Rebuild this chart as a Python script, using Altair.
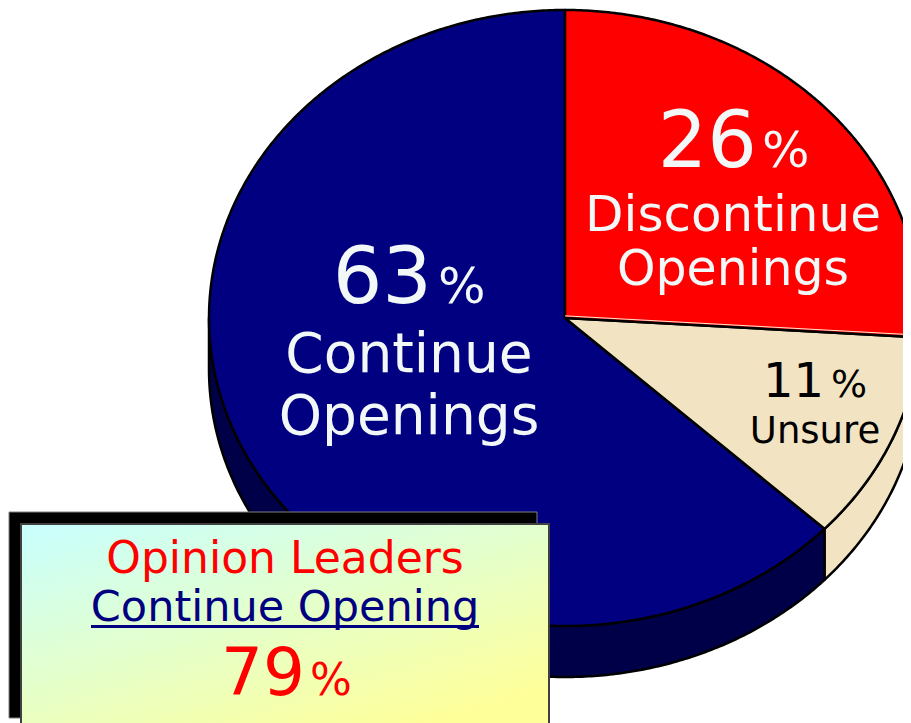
import math
import altair as alt
import pandas as pd

# Shares
SLICES = ["Discontinue Openings", "Unsure", "Continue Openings"]
SHARES = [26, 11, 63]
TOP_FILL = ["#ff0000", "#f2e4c2", "#000080"]
SIDE_FILL = ["#ff0000", "#f2e4c2", "#000048"]

W, H = 895, 715
CX, CY, RX, RY = 557, 310, 356, 308   # pie centre and radii inside the plot
DEPTH = 51 / RY

x_scale = alt.Scale(domain=[-CX / RX, (W - CX) / RX], nice=False, zero=False)
y_scale = alt.Scale(domain=[-(H - CY) / RY, CY / RY], nice=False, zero=False)


def rim(a0, a1, drop=0.0):
    n = max(2, int(abs(a1 - a0) * 2))
    return [
        (math.sin(math.radians(a0 + (a1 - a0) * i / n)),
         math.cos(math.radians(a0 + (a1 - a0) * i / n)) - drop)
        for i in range(n + 1)
    ]


def poly(points, fill, stroke="black", sw=2.5):
    df = pd.DataFrame(points, columns=["x", "y"])
    df["i"] = range(len(df))
    return alt.Chart(df).mark_line(
        fill=fill, stroke=stroke, strokeWidth=sw, clip=True, strokeJoin="round"
    ).encode(
        x=alt.X("x:Q", scale=x_scale, axis=None),
        y=alt.Y("y:Q", scale=y_scale, axis=None),
        order="i:Q",
    )


# slice angle ranges from the shares
angles = []
start = 0.0
for s in SHARES:
    angles.append((start, start + s * 3.6))
    start += s * 3.6

layers = []
# extruded walls (only the front-facing part of the rim)
for idx, (a0, a1) in [(1, (angles[1][0], angles[1][1])), (2, (angles[2][0], 270.0))]:
    top = rim(a0, a1)
    bottom = rim(a1, a0, DEPTH)
    pts = top + bottom + [top[0]]
    layers.append(poly(pts, SIDE_FILL[idx]))

# top faces
for idx in [2, 1, 0]:
    a0, a1 = angles[idx]
    pts = [(0.0, 0.0)] + rim(a0, a1) + [(0.0, 0.0)]
    layers.append(poly(pts, TOP_FILL[idx]))

# pale highlight along the red slice's lower edge
a = math.radians(angles[0][1])
edge = pd.DataFrame({"x": [0.0, math.sin(a)], "y": [0.007, math.cos(a) + 0.007], "i": [0, 1]})
layers.append(
    alt.Chart(edge).mark_line(stroke="#ffe9d0", strokeWidth=1, clip=True).encode(
        x=alt.X("x:Q", scale=x_scale, axis=None),
        y=alt.Y("y:Q", scale=y_scale, axis=None),
        order="i:Q",
    )
)

# annotation box: shadow, gradient panel, underline
one = pd.DataFrame({"a": [0]})
layers.append(
    alt.Chart(one).mark_rect(fill="#000000", stroke="#808080", strokeWidth=1).encode(
        x=alt.value(1), x2=alt.value(529), y=alt.value(504), y2=alt.value(710)
    )
)
gradient = alt.LinearGradient(
    gradient="linear",
    x1=0, y1=0, x2=0.75, y2=1,
    stops=[
        alt.GradientStop(offset=0, color="#c8ffff"),
        alt.GradientStop(offset=1, color="#ffff99"),
    ],
)
layers.append(
    alt.Chart(one).mark_rect(fill=gradient, stroke="#404040", strokeWidth=2).encode(
        x=alt.value(13), x2=alt.value(541), y=alt.value(516), y2=alt.value(722)
    )
)
layers.append(
    alt.Chart(one).mark_rect(fill="#000080").encode(
        x=alt.value(83), x2=alt.value(471), y=alt.value(617), y2=alt.value(620)
    )
)

# label texts: string, anchor x, baseline y, size, colour, alignment
WHITE = "#f2f7f7"
TEXTS = [
    ("63", 432, 303, 78, WHITE, "right"),
    ("%", 438, 303, 50, WHITE, "left"),
    ("Continue", 409, 372, 55, WHITE, "center"),
    ("Openings", 409, 434, 55, WHITE, "center"),
    ("26", 757, 167, 78, WHITE, "right"),
    ("%", 762, 167, 50, WHITE, "left"),
    ("Discontinue", 733, 231, 50, WHITE, "center"),
    ("Openings", 733, 285, 49, WHITE, "center"),
    ("11", 824, 397, 48, "#000000", "right"),
    ("%", 831, 397, 38, "#000000", "left"),
    ("Unsure", 815, 443, 37, "#000000", "center"),
    ("Opinion Leaders", 285, 573, 44, "#ff0000", "center"),
    ("Continue Opening", 285, 621, 43, "#000080", "center"),
    ("79", 305, 695, 66, "#ff0000", "right"),
    ("%", 310, 695, 44, "#ff0000", "left"),
]
for t, px, py, size, col, al in TEXTS:
    layers.append(
        alt.Chart(one).mark_text(
            text=t, font="DejaVu Sans", fontSize=size, color=col, align=al, baseline="alphabetic"
        ).encode(x=alt.value(px - 8), y=alt.value(py - 8))
    )

chart = (
    alt.layer(*layers)
    .properties(width=W, height=H, padding=0, autosize=alt.AutoSizeParams(type="none"), background="white")
    .configure_view(stroke=None)
)
chart.save("out.html", embed_options={"renderer": "svg", "actions": False})
